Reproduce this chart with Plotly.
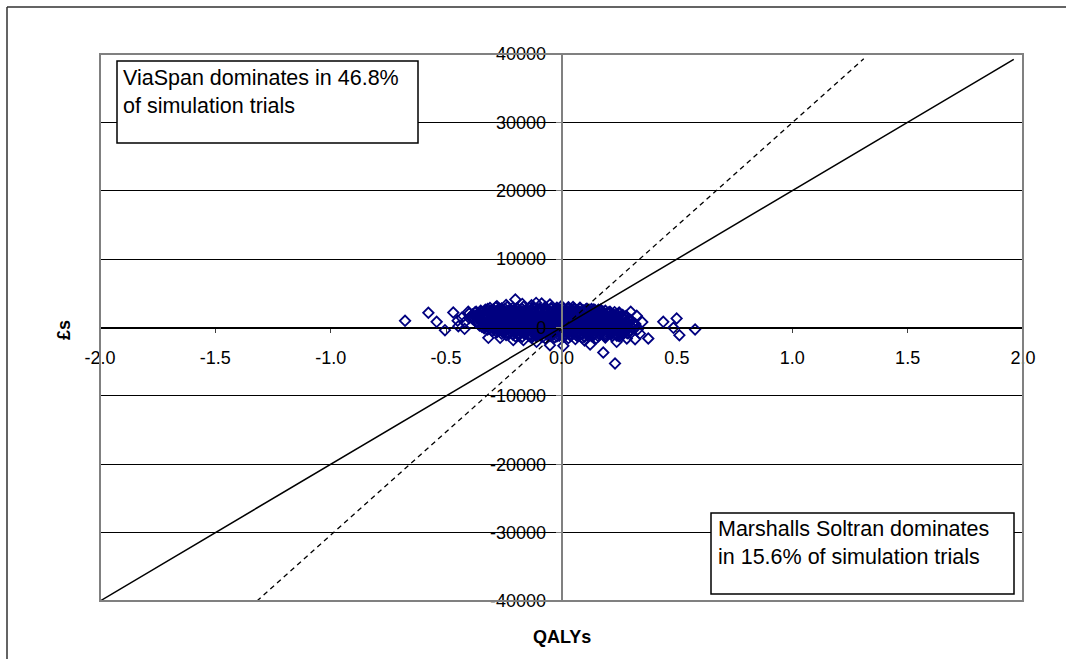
import plotly.graph_objects as go

# Incremental QALYs and costs (£) from the probabilistic simulation trials
trial_points = [
    # sparse upper edge of the cloud
    (-0.20, 4100), (-0.086, 3510), (-0.24, 3300), (-0.17, 3450), (-0.13, 3250),
    (-0.05, 3350), (0.00, 3150), (-0.28, 3100), (0.05, 3000), (-0.11, 3600),
    # main body
    (-0.31, 2850), (-0.285, 2950), (-0.26, 2800), (-0.235, 3000), (-0.21, 2900),
    (-0.19, 2750), (-0.165, 3050), (-0.14, 2850), (-0.12, 2950), (-0.095, 2800),
    (-0.07, 3000), (-0.045, 2850), (-0.02, 2900), (0.005, 2750), (0.03, 2950),
    (0.055, 2800), (0.08, 2900), (0.11, 2750), (0.14, 2650),
    (-0.32, 2700), (-0.295, 2650), (-0.27, 2750), (-0.245, 2700), (-0.22, 2650),
    (-0.195, 2800), (-0.17, 2700), (-0.145, 2650), (-0.12, 2750), (-0.095, 2650),
    (-0.07, 2750), (-0.045, 2700), (-0.02, 2650), (0.005, 2800), (0.03, 2700),
    (0.055, 2650), (0.08, 2750), (0.105, 2650), (0.13, 2700), (0.16, 2600),
    (-0.35, 2450), (-0.33, 2600), (-0.305, 2500), (-0.28, 2400), (-0.255, 2550),
    (-0.23, 2450), (-0.205, 2600), (-0.18, 2400), (-0.155, 2500), (-0.13, 2550),
    (-0.105, 2400), (-0.08, 2600), (-0.055, 2450), (-0.03, 2500), (-0.005, 2600),
    (0.02, 2400), (0.045, 2550), (0.07, 2450), (0.095, 2500), (0.12, 2400),
    (0.145, 2550), (0.17, 2350), (0.19, 2450), (0.21, 2300),
    (-0.37, 2300), (-0.345, 2250), (-0.32, 2350), (-0.295, 2300), (-0.27, 2250),
    (-0.245, 2350), (-0.22, 2300), (-0.195, 2250), (-0.17, 2350), (-0.145, 2300),
    (-0.12, 2250), (-0.095, 2350), (-0.07, 2300), (-0.045, 2250), (-0.02, 2350),
    (0.005, 2300), (0.03, 2250), (0.055, 2350), (0.08, 2300), (0.105, 2250),
    (0.13, 2350), (0.155, 2250), (0.18, 2300), (0.205, 2200), (0.23, 2250),
    (-0.40, 2050), (-0.375, 2200), (-0.35, 2100), (-0.325, 2000), (-0.30, 2150),
    (-0.275, 2050), (-0.25, 2200), (-0.225, 2000), (-0.20, 2100), (-0.175, 2150),
    (-0.15, 2000), (-0.125, 2100), (-0.10, 2200), (-0.075, 2050), (-0.05, 2100),
    (-0.025, 2000), (0.00, 2150), (0.025, 2050), (0.05, 2100), (0.075, 2000),
    (0.10, 2150), (0.125, 2050), (0.15, 2100), (0.175, 2000), (0.20, 2100),
    (0.225, 1950), (0.25, 2050),
    (-0.385, 1900), (-0.36, 1850), (-0.335, 1950), (-0.31, 1900), (-0.285, 1850),
    (-0.26, 1950), (-0.235, 1900), (-0.21, 1850), (-0.185, 1950), (-0.16, 1900),
    (-0.135, 1850), (-0.11, 1950), (-0.085, 1900), (-0.06, 1850), (-0.035, 1950),
    (-0.01, 1900), (0.015, 1850), (0.04, 1950), (0.065, 1900), (0.09, 1850),
    (0.115, 1950), (0.14, 1900), (0.165, 1850), (0.19, 1950), (0.215, 1850),
    (0.24, 1900), (0.265, 1850),
    (-0.39, 1650), (-0.365, 1750), (-0.34, 1700), (-0.315, 1600), (-0.29, 1750),
    (-0.265, 1650), (-0.24, 1700), (-0.215, 1800), (-0.19, 1600), (-0.165, 1700),
    (-0.14, 1750), (-0.115, 1650), (-0.09, 1700), (-0.065, 1600), (-0.04, 1750),
    (-0.015, 1650), (0.01, 1700), (0.035, 1800), (0.06, 1600), (0.085, 1700),
    (0.11, 1650), (0.135, 1750), (0.16, 1600), (0.185, 1700), (0.21, 1650),
    (0.235, 1750), (0.26, 1600), (0.28, 1700),
    (-0.39, 1500), (-0.365, 1450), (-0.34, 1550), (-0.315, 1500), (-0.29, 1450),
    (-0.265, 1550), (-0.24, 1500), (-0.215, 1450), (-0.19, 1550), (-0.165, 1500),
    (-0.14, 1450), (-0.115, 1550), (-0.09, 1500), (-0.065, 1450), (-0.04, 1550),
    (-0.015, 1500), (0.01, 1450), (0.035, 1550), (0.06, 1500), (0.085, 1450),
    (0.11, 1550), (0.135, 1500), (0.16, 1450), (0.185, 1550), (0.21, 1500),
    (0.235, 1450), (0.26, 1550), (0.285, 1450),
    (-0.385, 1250), (-0.36, 1350), (-0.335, 1300), (-0.31, 1200), (-0.285, 1350),
    (-0.26, 1300), (-0.235, 1250), (-0.21, 1400), (-0.185, 1300), (-0.16, 1200),
    (-0.135, 1350), (-0.11, 1250), (-0.085, 1300), (-0.06, 1400), (-0.035, 1250),
    (-0.01, 1300), (0.015, 1200), (0.04, 1350), (0.065, 1300), (0.09, 1250),
    (0.115, 1400), (0.14, 1300), (0.165, 1200), (0.19, 1350), (0.215, 1300),
    (0.24, 1250), (0.265, 1350), (0.29, 1200),
    (-0.375, 1100), (-0.35, 1050), (-0.325, 1150), (-0.30, 1100), (-0.275, 1050),
    (-0.25, 1150), (-0.225, 1100), (-0.20, 1050), (-0.175, 1150), (-0.15, 1100),
    (-0.125, 1050), (-0.10, 1150), (-0.075, 1100), (-0.05, 1050), (-0.025, 1150),
    (0.00, 1100), (0.025, 1050), (0.05, 1150), (0.075, 1100), (0.10, 1050),
    (0.125, 1150), (0.15, 1100), (0.175, 1050), (0.20, 1150), (0.225, 1100),
    (0.25, 1050), (0.275, 1150), (0.30, 1100),
    (-0.37, 900), (-0.345, 950), (-0.32, 850), (-0.295, 1000), (-0.27, 900),
    (-0.245, 800), (-0.22, 950), (-0.195, 900), (-0.17, 850), (-0.145, 1000),
    (-0.12, 900), (-0.095, 800), (-0.07, 950), (-0.045, 900), (-0.02, 850),
    (0.005, 1000), (0.03, 900), (0.055, 800), (0.08, 950), (0.105, 900),
    (0.13, 850), (0.155, 1000), (0.18, 900), (0.205, 800), (0.23, 950),
    (0.255, 900), (0.28, 850), (0.30, 950),
    (-0.365, 700), (-0.34, 650), (-0.315, 750), (-0.29, 700), (-0.265, 650),
    (-0.24, 750), (-0.215, 700), (-0.19, 650), (-0.165, 750), (-0.14, 700),
    (-0.115, 650), (-0.09, 750), (-0.065, 700), (-0.04, 650), (-0.015, 750),
    (0.01, 700), (0.035, 650), (0.06, 750), (0.085, 700), (0.11, 650),
    (0.135, 750), (0.16, 700), (0.185, 650), (0.21, 750), (0.235, 700),
    (0.26, 650), (0.285, 750), (0.31, 700),
    (-0.36, 500), (-0.335, 450), (-0.31, 550), (-0.285, 500), (-0.26, 400),
    (-0.235, 550), (-0.21, 500), (-0.185, 450), (-0.16, 600), (-0.135, 500),
    (-0.11, 400), (-0.085, 550), (-0.06, 500), (-0.035, 450), (-0.01, 600),
    (0.015, 500), (0.04, 400), (0.065, 550), (0.09, 500), (0.115, 450),
    (0.14, 600), (0.165, 500), (0.19, 400), (0.215, 550), (0.24, 500),
    (0.265, 450), (0.29, 550), (0.31, 450),
    (-0.355, 300), (-0.33, 250), (-0.305, 350), (-0.28, 300), (-0.255, 250),
    (-0.23, 350), (-0.205, 300), (-0.18, 250), (-0.155, 350), (-0.13, 300),
    (-0.105, 250), (-0.08, 350), (-0.055, 300), (-0.03, 250), (-0.005, 350),
    (0.02, 300), (0.045, 250), (0.07, 350), (0.095, 300), (0.12, 250),
    (0.145, 350), (0.17, 300), (0.195, 250), (0.22, 350), (0.245, 300),
    (0.27, 250), (0.295, 350),
    (-0.345, 100), (-0.32, 150), (-0.295, 50), (-0.27, 200), (-0.245, 100),
    (-0.22, 0), (-0.195, 150), (-0.17, 100), (-0.145, 50), (-0.12, 200),
    (-0.095, 100), (-0.07, 0), (-0.045, 150), (-0.02, 100), (0.005, 50),
    (0.03, 200), (0.055, 100), (0.08, 0), (0.105, 150), (0.13, 100),
    (0.155, 50), (0.18, 200), (0.205, 100), (0.23, 0), (0.255, 150),
    (0.28, 100), (0.305, 50),
    (-0.335, -100), (-0.31, -50), (-0.285, -150), (-0.26, -100), (-0.235, -50),
    (-0.21, -150), (-0.185, -100), (-0.16, -50), (-0.135, -150), (-0.11, -100),
    (-0.085, -50), (-0.06, -150), (-0.035, -100), (-0.01, -50), (0.015, -150),
    (0.04, -100), (0.065, -50), (0.09, -150), (0.115, -100), (0.14, -50),
    (0.165, -150), (0.19, -100), (0.215, -50), (0.24, -150), (0.265, -100),
    (0.29, -50), (0.31, -150),
    (-0.32, -300), (-0.295, -250), (-0.27, -350), (-0.245, -300), (-0.22, -200),
    (-0.195, -400), (-0.17, -300), (-0.145, -250), (-0.12, -350), (-0.095, -200),
    (-0.07, -300), (-0.045, -400), (-0.02, -250), (0.005, -300), (0.03, -350),
    (0.055, -200), (0.08, -300), (0.105, -400), (0.13, -250), (0.155, -300),
    (0.18, -350), (0.205, -200), (0.23, -300), (0.255, -400), (0.28, -250),
    (0.30, -350),
    (-0.30, -500), (-0.275, -450), (-0.25, -550), (-0.225, -500), (-0.20, -450),
    (-0.175, -550), (-0.15, -500), (-0.125, -450), (-0.10, -550), (-0.075, -500),
    (-0.05, -450), (-0.025, -550), (0.00, -500), (0.025, -450), (0.05, -550),
    (0.075, -500), (0.10, -450), (0.125, -550), (0.15, -500), (0.175, -450),
    (0.20, -550), (0.225, -500), (0.25, -450), (0.275, -550), (0.295, -500),
    (-0.28, -700), (-0.255, -650), (-0.23, -750), (-0.205, -700), (-0.18, -600),
    (-0.155, -800), (-0.13, -700), (-0.105, -650), (-0.08, -750), (-0.055, -600),
    (-0.03, -700), (-0.005, -800), (0.02, -650), (0.045, -700), (0.07, -750),
    (0.095, -600), (0.12, -700), (0.145, -800), (0.17, -650), (0.195, -700),
    (0.22, -750), (0.245, -600), (0.27, -700), (0.29, -800),
    (-0.26, -900), (-0.235, -850), (-0.21, -950), (-0.185, -900), (-0.16, -850),
    (-0.135, -950), (-0.11, -900), (-0.085, -850), (-0.06, -950), (-0.035, -900),
    (-0.01, -850), (0.015, -950), (0.04, -900), (0.065, -850), (0.09, -950),
    (0.115, -900), (0.14, -850), (0.165, -950), (0.19, -900), (0.215, -850),
    (0.24, -950), (0.265, -900), (0.285, -850),
    (-0.24, -1100), (-0.21, -1050), (-0.185, -1150), (-0.16, -1000), (-0.135, -1200),
    (-0.11, -1100), (-0.085, -1050), (-0.06, -1150), (-0.035, -1000), (-0.01, -1200),
    (0.015, -1100), (0.04, -1050), (0.065, -1150), (0.09, -1000), (0.115, -1200),
    (0.14, -1100), (0.165, -1050), (0.19, -1150), (0.215, -1000), (0.24, -1200),
    (0.265, -1050),
    (-0.20, -1300), (-0.17, -1350), (-0.14, -1250), (-0.11, -1300), (-0.08, -1350),
    (-0.05, -1250), (-0.02, -1300), (0.01, -1350), (0.04, -1250), (0.07, -1300),
    (0.10, -1350), (0.13, -1250), (0.16, -1300), (0.19, -1350), (0.22, -1250),
    (0.25, -1300),
    # sparse lower edge of the cloud
    (-0.317, -1510), (-0.266, -1510), (-0.209, -1850), (-0.165, -1850), (-0.108, -2100),
    (-0.13, -1500), (-0.07, -1600), (-0.03, -1450), (0.008, -2680), (0.03, -1550),
    (0.06, -1700), (0.09, -1500), (0.124, -2490), (0.15, -1600), (0.181, -3660),
    (0.19, -1450), (0.232, -5260), (0.239, -2100), (0.283, -1610), (0.319, -1710),
    (0.376, -1610), (-0.05, -2590), (0.10, -1900),
    # outlying trials
    (-0.678, 980), (-0.577, 2150), (-0.541, 830), (-0.505, -390), (-0.469, 2190),
    (-0.447, 190), (-0.432, 1420), (-0.404, 2290), (-0.418, 830), (-0.42, -200),
    (-0.45, 1000), (-0.40, 1400), (0.326, 1710), (0.21, 2150), (0.17, 2600),
    (0.25, 2200), (0.32, 500), (0.33, -300), (0.441, 830), (0.499, 1320),
    (0.485, -50), (0.511, -1130), (0.579, -290), (0.30, 2300), (0.35, 800),
    (0.34, -900),
]
delta_qaly = [p[0] for p in trial_points]
delta_cost = [p[1] for p in trial_points]

# Willingness-to-pay thresholds (£20,000 and £30,000 per QALY)
wtp20_qaly = [-2.0, 1.96]
wtp20_cost = [-40000, 39200]
wtp30_qaly = [-1.32, 1.31]
wtp30_cost = [-40000, 39300]

x_ticks = [-2.0, -1.5, -1.0, -0.5, 0.0, 0.5, 1.0, 1.5, 2.0]
x_tick_labels = ["-2.0", "-1.5", "-1.0", "-0.5", "0.0", "0.5", "1.0", "1.5", "2.0"]
y_ticks = [-40000, -30000, -20000, -10000, 0, 10000, 20000, 30000, 40000]
y_tick_labels = ["-40000", "-30000", "-20000", "-10000", "0",
                 "10000", "20000", "30000", "40000"]

note_viaspan = "ViaSpan dominates in 46.8%<br>of simulation trials"
note_soltran = "Marshalls Soltran dominates<br>in 15.6% of simulation trials"

FONT = "Liberation Sans, Arial, sans-serif"
W, H = 1066, 659
L, R, T, B = 100, 43, 54, 58
PW, PH = W - L - R, H - T - B


def px(x):
    return (x - L) / PW


def py(y):
    return (H - B - y) / PH


fig = go.Figure()

fig.add_trace(go.Scatter(
    x=delta_qaly, y=delta_cost, mode="markers",
    marker=dict(symbol="diamond-open", size=8, color="#000080",
                line=dict(color="#000080", width=1.8)),
    showlegend=False, hoverinfo="x+y",
))
fig.add_trace(go.Scatter(
    x=wtp20_qaly, y=wtp20_cost, mode="lines",
    line=dict(color="black", width=1.5), showlegend=False,
))
fig.add_trace(go.Scatter(
    x=wtp30_qaly, y=wtp30_cost, mode="lines",
    line=dict(color="black", width=1.3, dash="5px,4px"), showlegend=False,
))

shapes = [
    # outer chart frame (top and left edges fall inside the page)
    dict(type="line", xref="paper", yref="paper",
         x0=px(7), x1=px(1066), y0=py(7), y1=py(7),
         line=dict(color="#303030", width=1.5), layer="above"),
    dict(type="line", xref="paper", yref="paper",
         x0=px(7), x1=px(7), y0=py(7), y1=py(659),
         line=dict(color="#303030", width=1.5), layer="above"),
    # plot area frame
    dict(type="rect", xref="paper", yref="paper",
         x0=0, x1=1, y0=0, y1=1,
         line=dict(color="#808080", width=2), layer="above"),
    # annotation boxes
    dict(type="rect", xref="paper", yref="paper",
         x0=px(117), x1=px(418), y0=py(143), y1=py(61),
         fillcolor="white", line=dict(color="black", width=1.5), layer="above"),
    dict(type="rect", xref="paper", yref="paper",
         x0=px(711), x1=px(1014), y0=py(594), y1=py(513),
         fillcolor="white", line=dict(color="black", width=1.5), layer="above"),
]

annotations = [
    dict(text=note_viaspan, xref="paper", yref="paper", x=px(121), y=py(64),
         xanchor="left", yanchor="top", align="left", showarrow=False,
         font=dict(family=FONT, size=21.5, color="black")),
    dict(text=note_soltran, xref="paper", yref="paper", x=px(716), y=py(515),
         xanchor="left", yanchor="top", align="left", showarrow=False,
         font=dict(family=FONT, size=21.5, color="black")),
    dict(text="<b>QALYs</b>", xref="paper", yref="paper", x=px(562), y=py(637),
         xanchor="center", yanchor="middle", showarrow=False,
         font=dict(family=FONT, size=18, color="black")),
    dict(text="<b>£s</b>", xref="paper", yref="paper", x=px(64), y=py(330),
         xanchor="center", yanchor="middle", showarrow=False, textangle=-90,
         font=dict(family=FONT, size=18, color="black")),
]

fig.update_layout(
    width=W, height=H,
    margin=dict(l=L, r=R, t=T, b=B, pad=0),
    paper_bgcolor="white", plot_bgcolor="white",
    font=dict(family=FONT, size=18, color="black"),
    shapes=shapes, annotations=annotations,
    xaxis=dict(
        range=[-2, 2], anchor="free", position=0.5,
        tickvals=x_ticks, ticktext=x_tick_labels,
        showgrid=False, zeroline=False,
        showline=True, linecolor="black", linewidth=1,
        ticks="outside", ticklen=4, tickcolor="#404040", tickwidth=1,
        ticklabelstandoff=10,
        tickfont=dict(family=FONT, size=18, color="black"),
    ),
    yaxis=dict(
        range=[-40000, 40000], anchor="free", position=0.5,
        tickvals=y_ticks, ticktext=y_tick_labels,
        showgrid=True, gridcolor="black", gridwidth=1, zeroline=False,
        showline=True, linecolor="#808080", linewidth=1.5,
        ticks="outside", ticklen=5, tickcolor="#808080", tickwidth=1,
        ticklabelstandoff=6,
        tickfont=dict(family=FONT, size=18, color="black"),
    ),
)

fig.write_html("out.html")
